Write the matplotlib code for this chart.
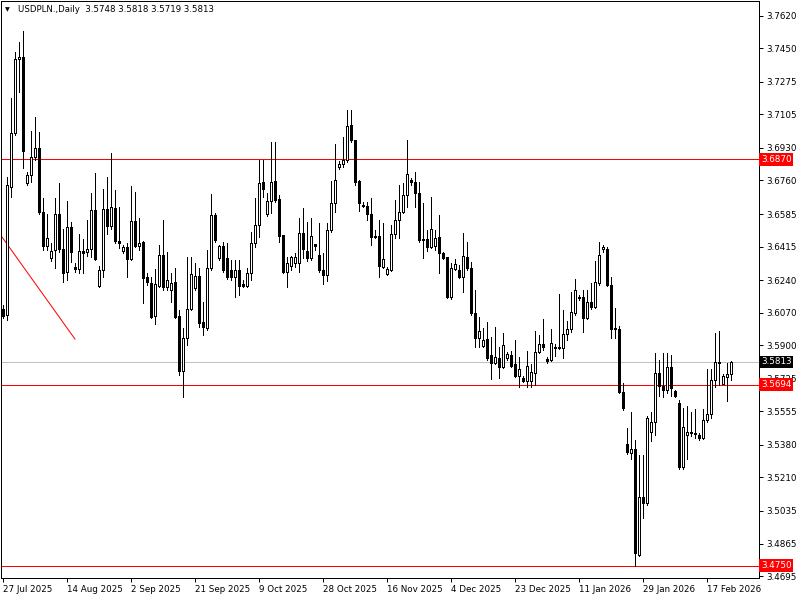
import matplotlib
matplotlib.use('Agg')
import matplotlib.pyplot as plt
import numpy as np

# USDPLN daily candles, 27 Jul 2025 .. 24 Feb 2026 (one bar per trading day incl. Sunday bars)
opens = [3.6089, 3.6058, 3.6725, 3.7007, 3.7394, 3.7404, 3.6746, 3.6789, 3.6882, 3.6929,
         3.6596, 3.6418, 3.6355, 3.6397, 3.6585, 3.6402, 3.6282, 3.6517, 3.6308, 3.6298,
         3.6392, 3.6387, 3.6402, 3.6606, 3.6209, 3.6293, 3.6611, 3.6522, 3.6616, 3.6444,
         3.6392, 3.6412, 3.6350, 3.6549, 3.6418, 3.6439, 3.6256, 3.6224, 3.6053, 3.6209,
         3.6371, 3.6203, 3.6188, 3.6230, 3.6053, 3.5766, 3.5938, 3.6089, 3.6198, 3.6261,
         3.6021, 3.5990, 3.6303, 3.6580, 3.6355, 3.6418, 3.6355, 3.6293, 3.6256, 3.6293,
         3.6219, 3.6209, 3.6277, 3.6433, 3.6528, 3.6752, 3.6585, 3.6653, 3.6757, 3.6663,
         3.6475, 3.6282, 3.6314, 3.6329, 3.6329, 3.6486, 3.6392, 3.6355, 3.6428, 3.6371,
         3.6293, 3.6267, 3.6501, 3.6642, 3.6830, 3.6846, 3.6867, 3.7049, 3.6971, 3.6757,
         3.6632, 3.6627, 3.6585, 3.6470, 3.6470, 3.6308, 3.6272, 3.6293, 3.6480, 3.6554,
         3.6596, 3.6684, 3.6762, 3.6752, 3.6694, 3.6454, 3.6454, 3.6412, 3.6418, 3.6465,
         3.6381, 3.6360, 3.6151, 3.6298, 3.6293, 3.6256, 3.6360, 3.6303, 3.6068, 3.5938,
         3.5896, 3.5932, 3.5849, 3.5807, 3.5833, 3.5786, 3.5833, 3.5849, 3.5802, 3.5739,
         3.5729, 3.5713, 3.5713, 3.5755, 3.5864, 3.5906, 3.5828, 3.5823, 3.5890, 3.5890,
         3.5885, 3.5958, 3.5984, 3.6068, 3.6151, 3.6151, 3.6042, 3.6126, 3.6099, 3.6224,
         3.6402, 3.6402, 3.6214, 3.5990, 3.5984, 3.5655, 3.5384, 3.5337, 3.5358, 3.4805,
         3.5107, 3.5076, 3.5447, 3.5499, 3.5755, 3.5687, 3.5666, 3.5786, 3.5661, 3.5598,
         3.5264, 3.5431, 3.5441, 3.5441, 3.5431, 3.5415, 3.5510, 3.5541, 3.5718, 3.5812,
         3.5697, 3.5734, 3.5748]
highs = [3.6110, 3.6778, 3.7190, 3.7431, 3.7483, 3.7540, 3.6805, 3.7018, 3.7091, 3.7013,
         3.6668, 3.6585, 3.6433, 3.6668, 3.6746, 3.6507, 3.6653, 3.6544, 3.6329, 3.6480,
         3.6454, 3.6554, 3.6694, 3.6799, 3.6314, 3.6715, 3.6778, 3.6903, 3.6710, 3.6621,
         3.6423, 3.6433, 3.6731, 3.6700, 3.6564, 3.6444, 3.6277, 3.6256, 3.6298, 3.6423,
         3.6554, 3.6387, 3.6277, 3.6303, 3.6084, 3.5990, 3.6360, 3.6360, 3.6329, 3.6303,
         3.6126, 3.6397, 3.6689, 3.6590, 3.6423, 3.6439, 3.6433, 3.6345, 3.6345, 3.6345,
         3.6240, 3.6303, 3.6491, 3.6668, 3.6867, 3.6867, 3.6694, 3.6961, 3.6961, 3.6684,
         3.6475, 3.6360, 3.6366, 3.6381, 3.6564, 3.6616, 3.6544, 3.6564, 3.6428, 3.6538,
         3.6381, 3.6538, 3.6757, 3.6950, 3.6862, 3.6987, 3.7128, 3.7128, 3.6971, 3.6762,
         3.6648, 3.6648, 3.6668, 3.6501, 3.6554, 3.6538, 3.6308, 3.6528, 3.6658, 3.6736,
         3.6746, 3.6971, 3.6773, 3.6804, 3.6752, 3.6642, 3.6501, 3.6673, 3.6501, 3.6580,
         3.6387, 3.6360, 3.6329, 3.6350, 3.6319, 3.6486, 3.6439, 3.6335, 3.6188, 3.6047,
         3.5990, 3.6021, 3.5943, 3.5995, 3.5890, 3.5964, 3.5864, 3.5870, 3.5927, 3.5838,
         3.5739, 3.5870, 3.5802, 3.5974, 3.5953, 3.6037, 3.5838, 3.5984, 3.5906, 3.6167,
         3.6084, 3.6027, 3.6178, 3.6246, 3.6162, 3.6188, 3.6188, 3.6224, 3.6340, 3.6439,
         3.6423, 3.6412, 3.6256, 3.6094, 3.6001, 3.5703, 3.5468, 3.5551, 3.5405, 3.5327,
         3.5327, 3.5531, 3.5551, 3.5859, 3.5823, 3.5859, 3.5859, 3.5849, 3.5666, 3.5614,
         3.5572, 3.5583, 3.5551, 3.5567, 3.5441, 3.5567, 3.5776, 3.5776, 3.5964, 3.5974,
         3.5750, 3.5807, 3.5818]
lows = [3.6042, 3.6032, 3.6673, 3.6997, 3.7222, 3.6825, 3.6736, 3.6752, 3.6867, 3.6585,
        3.6397, 3.6397, 3.6340, 3.6303, 3.6387, 3.6230, 3.6240, 3.6335, 3.6282, 3.6277,
        3.6277, 3.6366, 3.6360, 3.6345, 3.6203, 3.6256, 3.6480, 3.6507, 3.6433, 3.6407,
        3.6381, 3.6256, 3.6345, 3.6412, 3.6397, 3.6120, 3.6214, 3.6042, 3.6011, 3.6203,
        3.6188, 3.6188, 3.6126, 3.6042, 3.5745, 3.5629, 3.5901, 3.6084, 3.6188, 3.5995,
        3.5953, 3.5979, 3.6293, 3.6439, 3.6345, 3.6282, 3.6246, 3.6240, 3.6151, 3.6162,
        3.6203, 3.6203, 3.6240, 3.6412, 3.6465, 3.6673, 3.6575, 3.6590, 3.6648, 3.6439,
        3.6277, 3.6203, 3.6293, 3.6308, 3.6282, 3.6355, 3.6340, 3.6345, 3.6397, 3.6282,
        3.6219, 3.6235, 3.6491, 3.6596, 3.6820, 3.6830, 3.6857, 3.6961, 3.6736, 3.6601,
        3.6621, 3.6554, 3.6423, 3.6460, 3.6256, 3.6303, 3.6267, 3.6288, 3.6460, 3.6460,
        3.6590, 3.6621, 3.6736, 3.6621, 3.6439, 3.6355, 3.6392, 3.6407, 3.6397, 3.6277,
        3.6350, 3.6146, 3.6141, 3.6293, 3.6251, 3.6178, 3.6293, 3.6058, 3.5890, 3.5890,
        3.5890, 3.5823, 3.5724, 3.5802, 3.5729, 3.5781, 3.5823, 3.5786, 3.5734, 3.5682,
        3.5708, 3.5682, 3.5682, 3.5692, 3.5859, 3.5875, 3.5807, 3.5818, 3.5844, 3.5880,
        3.5833, 3.5927, 3.5969, 3.6058, 3.6136, 3.5969, 3.6037, 3.6089, 3.6094, 3.6214,
        3.6387, 3.6209, 3.5938, 3.5938, 3.5650, 3.5562, 3.5332, 3.5306, 3.4750, 3.4800,
        3.4998, 3.5066, 3.5400, 3.5431, 3.5635, 3.5630, 3.5650, 3.5635, 3.5630, 3.5254,
        3.5254, 3.5306, 3.5426, 3.5415, 3.5405, 3.5410, 3.5499, 3.5520, 3.5682, 3.5692,
        3.5697, 3.5609, 3.5719]
closes = [3.6053, 3.6736, 3.7007, 3.7394, 3.7404, 3.6914, 3.6789, 3.6882, 3.6929, 3.6596,
          3.6418, 3.6459, 3.6392, 3.6585, 3.6402, 3.6277, 3.6517, 3.6387, 3.6298, 3.6392,
          3.6381, 3.6402, 3.6606, 3.6350, 3.6293, 3.6611, 3.6522, 3.6621, 3.6444, 3.6433,
          3.6412, 3.6350, 3.6549, 3.6418, 3.6433, 3.6251, 3.6230, 3.6047, 3.6219, 3.6371,
          3.6203, 3.6240, 3.6224, 3.6047, 3.5766, 3.5938, 3.6089, 3.6272, 3.6261, 3.6016,
          3.5995, 3.6303, 3.6580, 3.6449, 3.6418, 3.6293, 3.6256, 3.6256, 3.6293, 3.6209,
          3.6209, 3.6277, 3.6433, 3.6528, 3.6746, 3.6715, 3.6653, 3.6752, 3.6658, 3.6470,
          3.6282, 3.6329, 3.6360, 3.6360, 3.6486, 3.6402, 3.6355, 3.6470, 3.6418, 3.6293,
          3.6267, 3.6501, 3.6642, 3.6762, 3.6846, 3.6867, 3.7044, 3.6971, 3.6752, 3.6642,
          3.6627, 3.6585, 3.6465, 3.6465, 3.6314, 3.6350, 3.6298, 3.6480, 3.6554, 3.6596,
          3.6684, 3.6794, 3.6752, 3.6694, 3.6449, 3.6449, 3.6412, 3.6507, 3.6460, 3.6381,
          3.6355, 3.6151, 3.6303, 3.6324, 3.6256, 3.6366, 3.6303, 3.6068, 3.5938, 3.5974,
          3.5927, 3.5833, 3.5807, 3.5838, 3.5786, 3.5901, 3.5854, 3.5791, 3.5739, 3.5776,
          3.5713, 3.5791, 3.5760, 3.5864, 3.5906, 3.5890, 3.5818, 3.5912, 3.5885, 3.5885,
          3.5958, 3.5984, 3.6073, 3.6188, 3.6146, 3.6042, 3.6126, 3.6099, 3.6230, 3.6371,
          3.6412, 3.6214, 3.5984, 3.5984, 3.5655, 3.5572, 3.5343, 3.5358, 3.4816, 3.5107,
          3.5076, 3.5520, 3.5499, 3.5755, 3.5687, 3.5666, 3.5786, 3.5676, 3.5635, 3.5264,
          3.5473, 3.5447, 3.5447, 3.5436, 3.5415, 3.5510, 3.5541, 3.5718, 3.5812, 3.5807,
          3.5739, 3.5750, 3.5813]

date_labels = ['27 Jul 2025', '14 Aug 2025', '2 Sep 2025', '21 Sep 2025', '9 Oct 2025',
               '28 Oct 2025', '16 Nov 2025', '4 Dec 2025', '23 Dec 2025', '11 Jan 2026',
               '29 Jan 2026', '17 Feb 2026']
price_ticks = [3.7620, 3.7450, 3.7275, 3.7105, 3.6930, 3.6760, 3.6585, 3.6415, 3.6240,
               3.6070, 3.5900, 3.5725, 3.5555, 3.5380, 3.5210, 3.5035, 3.4865, 3.4695]

level_high = 3.6870
level_mid = 3.5694
level_low = 3.4750
bid = 3.5813
trend_x = [-0.25, 18]
trend_y = [3.6465, 3.5932]

o = np.array(opens)
h = np.array(highs)
l = np.array(lows)
c = np.array(closes)
x = np.arange(len(o))
up = c >= o

fig = plt.figure(figsize=(8, 6), dpi=100)
ax = fig.add_axes([1 / 800, 22 / 600, 758 / 800, 577 / 600])
px = 0.72  # one pixel in points

ax.vlines(x, l, h, color='black', linewidth=px, zorder=2, antialiased=False)
ax.bar(x[up], (c - o)[up], bottom=o[up], width=0.5, color='white',
       edgecolor='black', linewidth=px, zorder=3, antialiased=False)
ax.bar(x[~up], (o - c)[~up], bottom=c[~up], width=0.5, color='black',
       edgecolor='black', linewidth=px, zorder=3, antialiased=False)

# horizontal levels and the trend line
ax.axhline(level_high, color='#ff0000', linewidth=px, zorder=1, antialiased=False)
ax.axhline(level_mid, color='#ff0000', linewidth=px, zorder=1, antialiased=False)
ax.axhline(level_low, color='#ff0000', linewidth=px, zorder=1, antialiased=False)
ax.axhline(bid, color='#c0c0c0', linewidth=px, zorder=1, antialiased=False)
ax.plot(trend_x, trend_y, color='#ff0000', linewidth=px, zorder=1)

ax.set_xlim(-0.5, 189)
ax.set_ylim(3.4685, 3.7697)

ax.yaxis.tick_right()
ax.set_yticks(price_ticks)
ax.set_yticklabels(['%.4f' % v for v in price_ticks])
ax.set_xticks(np.arange(len(date_labels)) * 16)
ax.set_xticklabels(date_labels, ha='left')
ax.tick_params(axis='both', length=3, width=px, labelsize=6.3, color='black',
               labelcolor='black')
ax.tick_params(axis='y', pad=2)
ax.tick_params(axis='x', pad=2)
for sp in ax.spines.values():
    sp.set_linewidth(px)
    sp.set_color('black')

# price tags on the right scale
tags = [(level_high, '#ff0000'), (bid, 'black'), (level_mid, '#ff0000'), (level_low, '#ff0000')]
for val, col in tags:
    ax.text(1.0027, val, '%.4f' % val, transform=ax.get_yaxis_transform(),
            ha='left', va='center', fontsize=6.3, color='white', zorder=10,
            bbox=dict(boxstyle='square,pad=0.2', fc=col, ec='none'), clip_on=False)

fig.text(5 / 800, 1 - 10 / 600, '\u25bc', fontsize=4.5, va='center', ha='left')
fig.text(18 / 800, 1 - 10 / 600, 'USDPLN.,Daily  3.5748 3.5818 3.5719 3.5813',
         fontsize=6.2, va='center', ha='left')

fig.savefig('out.png', dpi=100)
